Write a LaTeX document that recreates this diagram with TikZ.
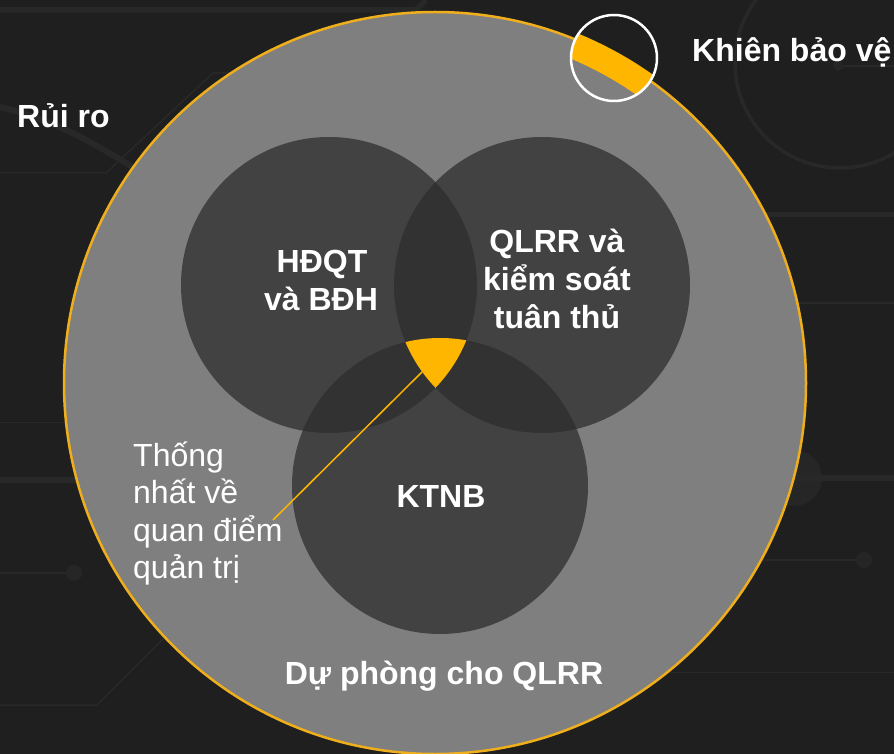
\documentclass[tikz,border=0pt]{standalone}
\usepackage{fontspec}
\setmainfont{Liberation Sans}
\definecolor{bgdark}{HTML}{1F1F1F}
\definecolor{trace}{HTML}{282828}
\definecolor{blob}{HTML}{262626}
\definecolor{ringgray}{HTML}{7F7F7F}
\definecolor{vennfill}{HTML}{2D2D2D}
\definecolor{gold}{HTML}{FFB600}
\definecolor{rimgold}{HTML}{EFAE1C}
\tikzset{
  thintrace/.style={draw=trace, line width=1.5pt},
  thicktrace/.style={draw=trace, line width=5.5pt},
  vennset/.style={fill=vennfill, fill opacity=0.733},
  boldlabel/.style={text=white, inner sep=0pt, font=\fontsize{32}{38}\selectfont\bfseries},
  plainlabel/.style={text=white, inner sep=0pt, anchor=base west, font=\fontsize{32}{38}\selectfont},
}
\begin{document}
\begin{tikzpicture}[x=1pt, y=-1pt]
  % canvas
  \fill[bgdark] (0,0) rectangle (894,754);
  \useasboundingbox (0,0) rectangle (894,754);

  % faint circuit traces in the background
  \draw[thicktrace] (0,10) -- (416,10) -- (426,0);
  \draw[thintrace] (0,173) -- (106,173) -- (213,73) -- (300,73);
  \draw[draw=trace, line width=6pt] (0,107) .. controls (55,120) and (100,145) .. (160,185);
  \draw[thintrace] (0,422.5) -- (100,422.5);
  \draw[thicktrace] (0,480) -- (100,480);
  \draw[thintrace] (0,573) -- (74,573);
  \fill[blob] (74,573) circle[radius=8pt];
  \draw[thintrace] (0,705) -- (97,705) -- (210,592);
  \draw[draw=trace, line width=3.5pt] (840,63) circle[radius=105pt];
  \draw[thintrace] (838,66) -- (894,66);
  \fill[blob] (838,66) circle[radius=5pt];
  \draw[thicktrace] (740,214.5) -- (894,214.5);
  \draw[thintrace] (760,303) -- (894,303);
  \fill[blob] (794,478) circle[radius=28pt];
  \draw[thicktrace] (790,478) -- (894,478);
  \draw[thintrace] (740,560) -- (864,560);
  \fill[blob] (864,560) circle[radius=8pt];
  \draw[thintrace] (650,672.5) -- (894,672.5);

  % key points
  \coordinate (O) at (435,383);
  \coordinate (cA) at (329,285);
  \coordinate (cB) at (542,285);
  \coordinate (cC) at (440,486);
  \coordinate (S) at (614,58);

  % outer ring
  \fill[ringgray] (O) circle[radius=371pt];
  \draw[rimgold, line width=2.5pt] (O) circle[radius=371pt];

  % three overlapping sets
  \fill[vennset] (cA) circle[radius=148pt];
  \fill[vennset] (cB) circle[radius=148pt];
  \fill[vennset] (cC) circle[radius=148pt];

  % common core of the three sets
  \begin{scope}
    \clip (cA) circle[radius=148pt];
    \clip (cB) circle[radius=148pt];
    \fill[gold] (cC) circle[radius=148pt];
  \end{scope}

  % shield highlight on the rim
  \begin{scope}
    \clip (S) circle[radius=43pt];
    \draw[gold, line width=26pt] (O) circle[radius=364.5pt];
  \end{scope}
  \draw[white, line width=2.5pt] (S) circle[radius=43pt];

  % leader from the core to its caption
  \coordinate (core) at (422,372);
  \coordinate (tip) at (273,520);
  \draw[gold, line width=1.5pt] (core) -- (tip);

  % labels
  \node[boldlabel, anchor=base west] (risk) at (17,128) {Rủi ro};
  \node[boldlabel, anchor=base west] (shield) at (692,62) {Khiên bảo vệ};
  \node[boldlabel, anchor=base] (hdqt1) at (322,272) {HĐQT};
  \node[boldlabel, anchor=base] (hdqt2) at (321,310) {và BĐH};
  \node[boldlabel, anchor=base] (qlrr1) at (557,252) {QLRR và};
  \node[boldlabel, anchor=base] (qlrr2) at (557,290.5) {kiểm soát};
  \node[boldlabel, anchor=base] (qlrr3) at (557,328.5) {tuân thủ};
  \node[boldlabel, anchor=base] (ktnb) at (441,507) {KTNB};
  \node[boldlabel, anchor=base] (reserve) at (444,684) {Dự phòng cho QLRR};
  \node[plainlabel] (view1) at (133,466) {Thống};
  \node[plainlabel] (view2) at (133,503.5) {nhất về};
  \node[plainlabel] (view3) at (133,541.5) {quan điểm};
  \node[plainlabel] (view4) at (133,578.5) {quản trị};
\end{tikzpicture}
\end{document}
